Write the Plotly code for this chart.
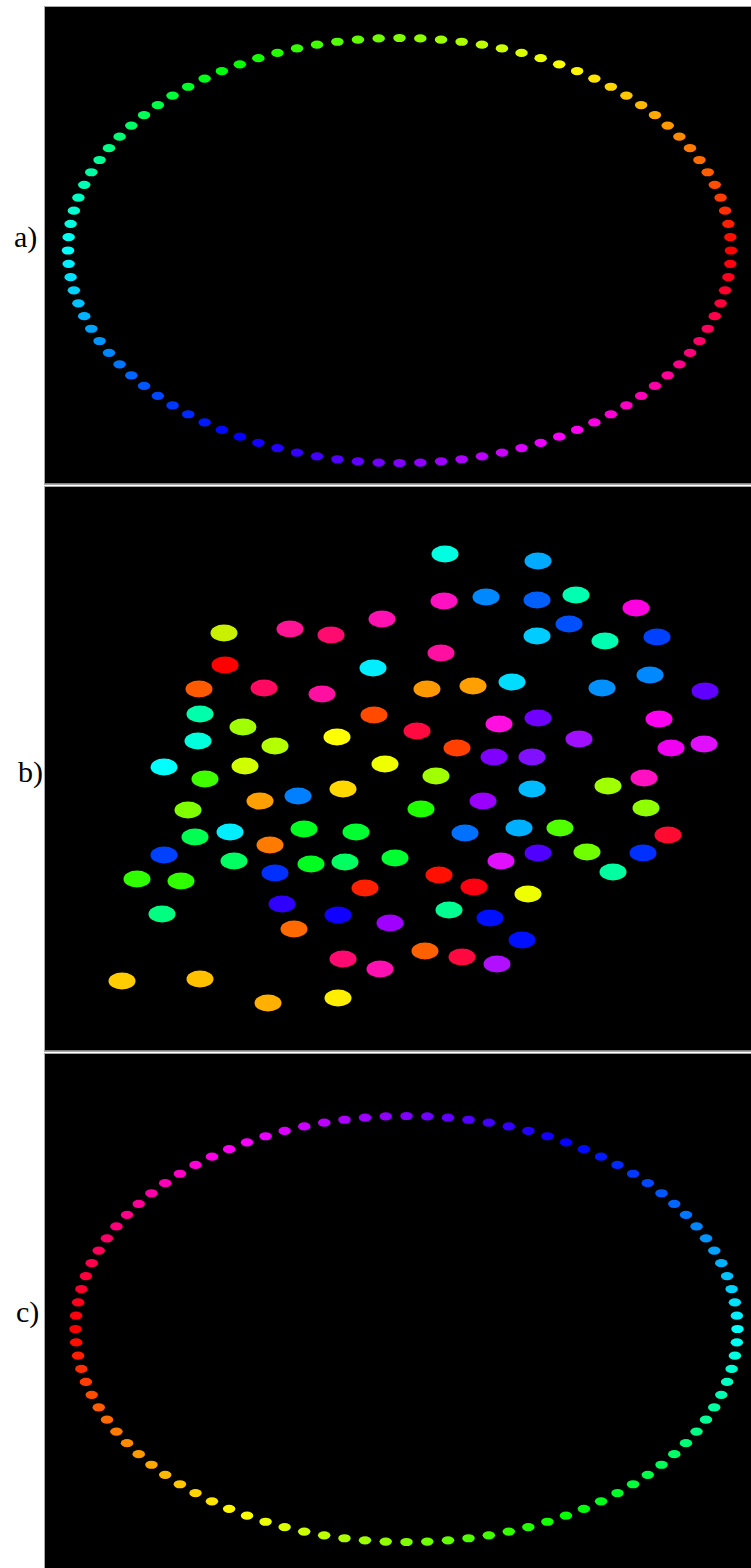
import colorsys
import math
import plotly.graph_objects as go

# ---------------- data ----------------
# angular position (deg) of each of the 100 dots on the rings of panels a) and c)
ring_angles_deg = [
    0, 3.6, 7.2, 10.8, 14.4, 18, 21.6, 25.2, 28.8, 32.4,
    36, 39.6, 43.2, 46.8, 50.4, 54, 57.6, 61.2, 64.8, 68.4,
    72, 75.6, 79.2, 82.8, 86.4, 90, 93.6, 97.2, 100.8, 104.4,
    108, 111.6, 115.2, 118.8, 122.4, 126, 129.6, 133.2, 136.8, 140.4,
    144, 147.6, 151.2, 154.8, 158.4, 162, 165.6, 169.2, 172.8, 176.4,
    180, 183.6, 187.2, 190.8, 194.4, 198, 201.6, 205.2, 208.8, 212.4,
    216, 219.6, 223.2, 226.8, 230.4, 234, 237.6, 241.2, 244.8, 248.4,
    252, 255.6, 259.2, 262.8, 266.4, 270, 273.6, 277.2, 280.8, 284.4,
    288, 291.6, 295.2, 298.8, 302.4, 306, 309.6, 313.2, 316.8, 320.4,
    324, 327.6, 331.2, 334.8, 338.4, 342, 345.6, 349.2, 352.8, 356.4,
]
# hue of a ring dot = its angle + offset
hue_offset_a = 0
hue_offset_c = 180

# scattered dots of panel b) (image-pixel coordinates) and colours
b_x = [224, 290, 331, 382, 225, 373, 199, 264, 322, 200,
       374, 243, 198, 337, 275, 164, 245, 385, 205, 343,
       260, 298, 445, 538, 444, 486, 537, 576, 636, 537,
       569, 605, 657, 441, 427, 473, 512, 602, 650, 705,
       417, 499, 538, 579, 659, 457, 494, 532, 671, 704,
       436, 532, 608, 644, 483, 188, 230, 195, 304, 356,
       270, 164, 234, 275, 311, 345, 395, 137, 181, 365,
       162, 282, 338, 390, 294, 343, 380, 122, 200, 268,
       338, 421, 646, 465, 519, 560, 668, 501, 538, 587,
       643, 613, 439, 474, 528, 449, 490, 522, 425, 462, 497]
b_y = [633, 629, 635, 619, 665, 668, 689, 688, 694, 714,
       715, 727, 741, 737, 746, 767, 766, 764, 779, 789,
       801, 796, 554, 561, 601, 597, 600, 595, 608, 636,
       624, 641, 637, 653, 689, 686, 682, 688, 675, 691,
       731, 724, 718, 739, 719, 748, 757, 757, 748, 744,
       776, 789, 786, 778, 801, 810, 832, 837, 829, 832,
       845, 855, 861, 873, 864, 862, 858, 879, 881, 888,
       914, 904, 915, 923, 929, 959, 969, 981, 979, 1003,
       998, 809, 808, 833, 828, 828, 835, 861, 853, 852,
       853, 872, 875, 887, 894, 910, 918, 940, 951, 957, 964]
b_colors = ["#c8f000", "#ff1493", "#ff0a6e", "#ff10b0", "#ff0000", "#00eeff", "#ff5a00", "#ff0a60", "#ff10a0", "#00ffaa",
            "#ff4a00", "#a0ff00", "#00ffdd", "#ffff00", "#b4ff00", "#00ffff", "#d0ff00", "#f0ff00", "#40ff00", "#ffd800",
            "#ffa000", "#0080ff", "#00ffe0", "#00aaff", "#ff10c0", "#0088ff", "#0060ff", "#00ffb0", "#ff00e0", "#00ccff",
            "#0050ff", "#00ffb0", "#0040ff", "#ff10a0", "#ff9900", "#ffa000", "#00ddff", "#0090ff", "#0088ff", "#6000ff",
            "#ff0a40", "#ff10e0", "#7000ff", "#a010ff", "#ff00f0", "#ff4000", "#8000ff", "#8010ff", "#f000f0", "#e010ff",
            "#a0ff00", "#00bbff", "#a0ff00", "#ff10c0", "#9900ff", "#80ff00", "#00eeff", "#00ff50", "#00ff20", "#00ff30",
            "#ff7a00", "#0040ff", "#00ff60", "#0030ff", "#00ff20", "#00ff60", "#00ff30", "#30ff00", "#30ff00", "#ff2000",
            "#00ff80", "#3000ff", "#1000ff", "#a000ff", "#ff6a00", "#ff0a70", "#ff10b0", "#ffcc00", "#ffc000", "#ffb000",
            "#ffee00", "#20ff00", "#90ff00", "#0070ff", "#00b0ff", "#50ff00", "#ff0a30", "#e010ff", "#5000ff", "#70ff00",
            "#0030ff", "#00ffa0", "#ff1000", "#ff0010", "#eeff00", "#00ff90", "#0010ff", "#0010ff", "#ff6000", "#ff0a40",
            "#b010ff"]

panel_labels = ["a)", "b)", "c)"]

# ---------------- layout geometry (pixels) ----------------
W, H = 751, 1568
LEFT = 45
panels = [  # top, bottom
    (7, 483.5),
    (486.5, 1050.5),
    (1053.5, 1568),
]
label_pos = [(25, 237), (30, 772), (27, 1312)]

ring_a = dict(cx=399.5, cy=250.5, ax=331.5, by=212.5)
ring_c = dict(cx=406.5, cy=1329, ax=331, by=213)
ring_dot_w, ring_dot_h = 12.5, 8.2
b_dot_w, b_dot_h = 27, 17


def hsv_hex(h):
    r, g, b = colorsys.hsv_to_rgb((h % 360) / 360.0, 1, 1)
    return "#%02x%02x%02x" % (round(r * 255), round(g * 255), round(b * 255))


fig = go.Figure()
shapes = []


def add_ring(idx, ring, hue_off, top, bottom):
    xa = "x" if idx == 1 else "x%d" % idx
    ya = "y" if idx == 1 else "y%d" % idx
    xs = [math.cos(math.radians(a)) for a in ring_angles_deg]
    ys = [math.sin(math.radians(a)) for a in ring_angles_deg]
    cols = [hsv_hex(a + hue_off) for a in ring_angles_deg]
    rx = ring_dot_w / 2 / ring["ax"]
    ry = ring_dot_h / 2 / ring["by"]
    for x, y, c in zip(xs, ys, cols):
        shapes.append(dict(type="circle", xref=xa, yref=ya, x0=x - rx, x1=x + rx,
                           y0=y - ry, y1=y + ry, fillcolor=c, line=dict(width=0), layer="above"))
    fig.add_trace(go.Scatter(x=xs, y=ys, mode="markers", xaxis=xa, yaxis=ya,
                             marker=dict(color=cols, size=8, opacity=0), showlegend=False,
                             hoverinfo="skip"))
    xr = [(LEFT - ring["cx"]) / ring["ax"], (W - ring["cx"]) / ring["ax"]]
    yr = [(ring["cy"] - bottom) / ring["by"], (ring["cy"] - top) / ring["by"]]
    return xr, yr


xr1, yr1 = add_ring(1, ring_a, hue_offset_a, *panels[0])
xr3, yr3 = add_ring(3, ring_c, hue_offset_c, *panels[2])

# panel b
for x, y, c in zip(b_x, b_y, b_colors):
    shapes.append(dict(type="circle", xref="x2", yref="y2", x0=x - b_dot_w / 2, x1=x + b_dot_w / 2,
                       y0=y - b_dot_h / 2, y1=y + b_dot_h / 2, fillcolor=c, line=dict(width=0),
                       layer="above"))
fig.add_trace(go.Scatter(x=b_x, y=b_y, mode="markers", xaxis="x2", yaxis="y2",
                         marker=dict(color=b_colors, size=8, opacity=0), showlegend=False,
                         hoverinfo="skip"))
xr2 = [LEFT, W]
yr2 = [panels[1][1], panels[1][0]]

axis_common = dict(showgrid=False, zeroline=False, showticklabels=False, ticks="",
                   showline=True, mirror=True, linecolor="#a8a8a8", linewidth=1, fixedrange=True)


def ydom(top, bottom):
    return [1 - bottom / H, 1 - top / H]


xdom = [LEFT / W, 1]
layout = dict(
    width=W, height=H, margin=dict(l=0, r=0, t=0, b=0),
    paper_bgcolor="white", plot_bgcolor="black",
    shapes=shapes,
    xaxis=dict(domain=xdom, range=xr1, anchor="y", **axis_common),
    yaxis=dict(domain=ydom(*panels[0]), range=yr1, anchor="x", **axis_common),
    xaxis2=dict(domain=xdom, range=xr2, anchor="y2", **axis_common),
    yaxis2=dict(domain=ydom(*panels[1]), range=yr2, anchor="x2", **axis_common),
    xaxis3=dict(domain=xdom, range=xr3, anchor="y3", **axis_common),
    yaxis3=dict(domain=ydom(*panels[2]), range=yr3, anchor="x3", **axis_common),
    annotations=[
        dict(text=t, x=px / W, y=1 - py / H, xref="paper", yref="paper",
             xanchor="center", yanchor="middle", showarrow=False,
             font=dict(family="Liberation Serif, Times New Roman, serif", size=30, color="black"))
        for t, (px, py) in zip(panel_labels, label_pos)
    ],
)
fig.update_layout(**layout)
fig.write_html(
    "out.html",
    config={"displayModeBar": False},
    post_script="document.body.style.margin='0';document.body.style.overflow='hidden';",
)
